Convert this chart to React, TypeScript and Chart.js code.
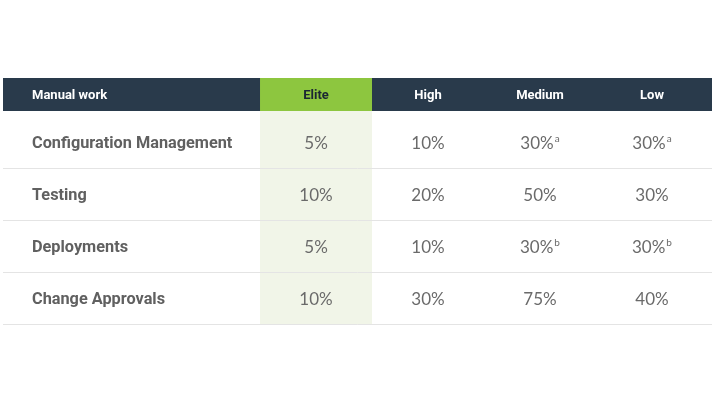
import React, { useEffect, useRef } from "react";
import { Chart, registerables } from "chart.js";

Chart.register(...registerables);

const headerLabel = "Manual work";
const columns = ["Elite", "High", "Medium", "Low"];
const rowLabels = ["Configuration Management", "Testing", "Deployments", "Change Approvals"];
const eliteValues = [5, 10, 5, 10];
const highValues = [10, 20, 10, 30];
const mediumValues = [30, 50, 30, 75];
const lowValues = [30, 30, 30, 40];
const mediumNotes = ["a", "", "b", ""];
const lowNotes = ["a", "", "b", ""];

const seriesValues = [eliteValues, highValues, mediumValues, lowValues];
const seriesNotes = [[], [], mediumNotes, lowNotes];

const FONT = "Lato, 'Open Sans', sans-serif";
const BOLD_FONT = "Roboto, 'Open Sans', sans-serif";
const NAVY = "#293a4b";
const GREEN = "#8dc63f";
const LIGHT_GREEN = "#f1f5e8";
const LINE = "#e4e4e4";
const HEADER_BOTTOM = 0.385; // value on the row axis where the header band ends

const tablePlugin = {
  id: "tablePlugin",
  beforeDatasetsDraw(chart: any) {
    const { ctx, chartArea, scales } = chart;
    const x = scales.x;
    const y = scales.y;
    const headTop = y.getPixelForValue(y.min);
    const headBottom = Math.round(y.getPixelForValue(HEADER_BOTTOM));
    const bodyBottom = y.getPixelForValue(rowLabels.length + 0.5);
    ctx.save();
    ctx.fillStyle = NAVY;
    ctx.fillRect(chartArea.left, headTop, chartArea.right - chartArea.left, headBottom - headTop);
    const eL = x.getPixelForValue(0.5);
    const eR = x.getPixelForValue(1.5);
    ctx.fillStyle = GREEN;
    ctx.fillRect(eL, headTop, eR - eL, headBottom - headTop);
    ctx.fillStyle = LIGHT_GREEN;
    ctx.fillRect(eL, headBottom, eR - eL, bodyBottom - headBottom);
    ctx.strokeStyle = LINE;
    ctx.lineWidth = 1;
    for (let i = 1; i <= rowLabels.length; i++) {
      const py = Math.round(y.getPixelForValue(i + 0.5)) - 0.5;
      ctx.beginPath();
      ctx.moveTo(chartArea.left, py);
      ctx.lineTo(chartArea.right, py);
      ctx.stroke();
    }
    const headY = (headTop + headBottom) / 2;
    ctx.textBaseline = "middle";
    ctx.font = `bold 13px ${BOLD_FONT}`;
    ctx.fillStyle = "#ffffff";
    ctx.textAlign = "left";
    ctx.fillText(headerLabel, chartArea.left + 29, headY + 1);
    ctx.textAlign = "center";
    columns.forEach((c, i) => {
      ctx.fillStyle = i === 0 ? "#1b2633" : "#ffffff";
      ctx.fillText(c, x.getPixelForValue(i + 1), headY + 1);
    });
    ctx.textAlign = "left";
    ctx.font = `bold 16.3px ${BOLD_FONT}`;
    ctx.fillStyle = "#606060";
    rowLabels.forEach((r, i) => {
      ctx.fillText(r, chartArea.left + 29, y.getPixelForValue(i + 1) + 1);
    });
    ctx.restore();
  },
  afterDatasetsDraw(chart: any) {
    const { ctx } = chart;
    ctx.save();
    ctx.textBaseline = "middle";
    chart.data.datasets.forEach((ds: any, di: number) => {
      const meta = chart.getDatasetMeta(di);
      meta.data.forEach((pt: any, pi: number) => {
        const text = `${seriesValues[di][pi]}%`;
        const note = (seriesNotes[di] as string[])[pi] || "";
        ctx.font = `17px ${FONT}`;
        const w = ctx.measureText(text).width;
        ctx.font = `10px ${FONT}`;
        const nw = note ? ctx.measureText(note).width + 1 : 0;
        const start = pt.x - (w + nw) / 2;
        ctx.fillStyle = "#6a6a6a";
        ctx.textAlign = "left";
        ctx.font = `17px ${FONT}`;
        ctx.fillText(text, start, pt.y + 1);
        if (note) {
          ctx.font = `10px ${FONT}`;
          ctx.fillText(note, start + w + 1, pt.y - 4);
        }
      });
    });
    ctx.restore();
  },
};

export default function App() {
  const ref = useRef<HTMLCanvasElement | null>(null);
  useEffect(() => {
    document.body.style.margin = "0";
    const canvas = ref.current!;
    const chart = new Chart(canvas, {
      type: "scatter",
      data: {
        datasets: seriesValues.map((vals, ci) => ({
          label: columns[ci],
          data: vals.map((v, ri) => ({ x: ci + 1, y: ri + 1 })),
          pointRadius: 0,
          pointHoverRadius: 0,
        })),
      },
      options: {
        animation: false,
        responsive: false,
        events: [],
        layout: { padding: { left: 3, right: 8, top: 78, bottom: 80 } },
        plugins: { legend: { display: false }, tooltip: { enabled: false } },
        scales: {
          x: { type: "linear", display: false, min: -1.795, max: 4.536 },
          y: { type: "linear", display: false, reverse: true, min: -0.25, max: 4.5 },
        },
      },
      plugins: [tablePlugin],
    });
    return () => chart.destroy();
  }, []);
  return (
    <div style={{ width: 720, height: 405, background: "#fff" }}>
      <canvas ref={ref} width={720} height={405} style={{ display: "block" }} />
    </div>
  );
}
